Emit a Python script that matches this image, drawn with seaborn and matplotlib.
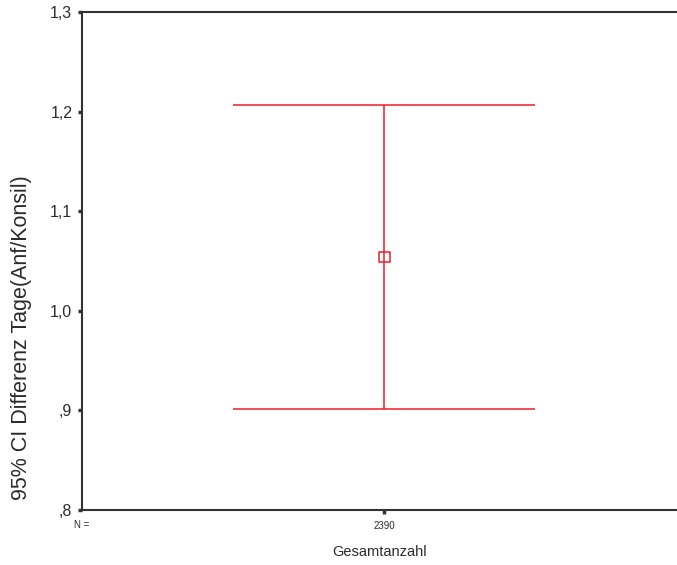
import matplotlib
matplotlib.use("Agg")
import matplotlib.pyplot as plt
import seaborn as sns

# summary values
groups = ["Gesamtanzahl"]
n_cases = ["2390"]
means = [1.054]
ci_low = [0.901]
ci_high = [1.207]
y_ticks = [0.8, 0.9, 1.0, 1.1, 1.2, 1.3]
y_tick_labels = [",8", ",9", "1,0", "1,1", "1,2", "1,3"]

sns.set_style("white")
plt.rcParams['font.family'] = ['Liberation Sans', 'DejaVu Sans']

fig = plt.figure(figsize=(6.77, 5.65), dpi=100)
ax = fig.add_axes([0.1211, 0.0973, 0.8789, 0.8815])

red = "#ee1c25"
text_col = "#2b2b2b"
xpos = list(range(len(groups)))
err = [[m - lo for m, lo in zip(means, ci_low)], [hi - m for m, hi in zip(means, ci_high)]]
ax.errorbar(xpos, means, yerr=err, fmt="none", ecolor=red, elinewidth=1.1,
            capsize=108.5, capthick=1.1)
sns.scatterplot(x=xpos, y=means, ax=ax, marker="s", s=60, facecolor="none",
                edgecolor=red, linewidth=1.1, zorder=5)

ax.set_xlim(-0.508, 0.492)
ax.set_ylim(0.8, 1.3)
ax.set_yticks(y_ticks)
ax.set_yticklabels(y_tick_labels, fontsize=11.5, color=text_col)
ax.set_xticks(xpos)
ax.set_xticklabels(n_cases, fontsize=7, color=text_col)
ax.tick_params(axis="both", direction="out", length=3, width=2.5, color="#333333",
               left=True, bottom=True)
ax.tick_params(axis="y", pad=4)
ax.tick_params(axis="x", pad=5)

for side in ["left", "bottom", "top"]:
    ax.spines[side].set_color("#333333")
    ax.spines[side].set_linewidth(1.5)
ax.spines["right"].set_visible(False)

ax.set_ylabel("95% CI Differenz Tage(Anf/Konsil)", fontsize=15.5, color=text_col)
ax.yaxis.set_label_coords(-0.084, 0.347)
ax.set_xlabel(groups[0], fontsize=10.5, color=text_col, labelpad=10)
ax.text(0.0, -0.03, "N =", transform=ax.transAxes, ha="center", va="center",
        fontsize=7, color=text_col)

fig.savefig("out.png", dpi=100)
